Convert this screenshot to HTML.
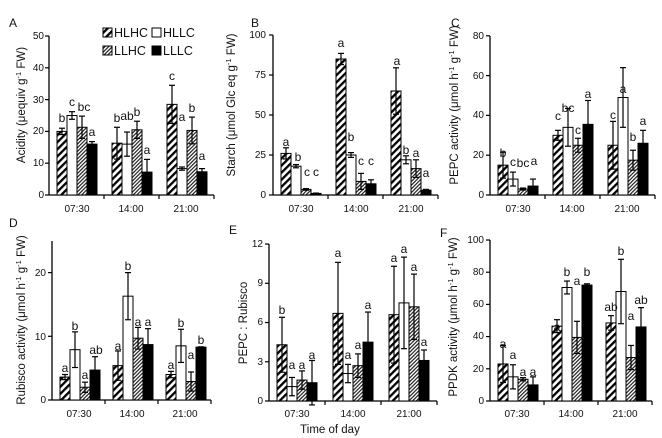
<!DOCTYPE html>
<html><head><meta charset="utf-8"><style>
html,body{margin:0;padding:0;background:#fff}
svg{display:block}
text{font-family:"Liberation Sans",Arial,sans-serif;fill:#111}
.t{font-size:10px}
.l{font-size:12px}
.lg{font-size:12.5px}
.y{font-size:11.5px}
.p{font-size:12px}
</style></head><body>
<svg id="s" width="662" height="438" viewBox="0 0 662 438" xmlns="http://www.w3.org/2000/svg">
<defs>
<pattern id="wide" patternUnits="userSpaceOnUse" width="5" height="5" patternTransform="rotate(45)">
<rect width="5" height="5" fill="#fff"/><rect width="2.3" height="5" fill="#000"/></pattern>
<pattern id="thin" patternUnits="userSpaceOnUse" width="2.6" height="2.6" patternTransform="rotate(45)">
<rect width="2.6" height="2.6" fill="#fff"/><rect width="1.2" height="2.6" fill="#222"/></pattern>
</defs>
<g id="g"></g>
<text class="p" x="9" y="27">A</text>
<text class="p" x="251" y="27">B</text>
<text class="p" x="451" y="27">C</text>
<text class="p" x="9" y="227">D</text>
<text class="p" x="229" y="234">E</text>
<text class="p" x="440" y="237">F</text>
<text class="y" transform="translate(25,105) rotate(-90)" text-anchor="middle">Acidity  (μequiv g<tspan dy="-4" font-size="7.5">-1</tspan><tspan dy="4"> FW)</tspan></text>
<text class="y" transform="translate(235,105) rotate(-90)" text-anchor="middle">Starch (μmol  Glc eq g<tspan dy="-4" font-size="7.5">-1</tspan><tspan dy="4"> FW)</tspan></text>
<text class="y" transform="translate(458,105) rotate(-90)" text-anchor="middle">PEPC activity (μmol  h<tspan dy="-4" font-size="7.5">-1</tspan><tspan dy="4"> g</tspan><tspan dy="-4" font-size="7.5">-1</tspan><tspan dy="4"> FW)</tspan></text>
<text class="y" transform="translate(25,320) rotate(-90)" text-anchor="middle">Rubisco activity (μmol h<tspan dy="-4" font-size="7.5">-1</tspan><tspan dy="4"> g</tspan><tspan dy="-4" font-size="7.5">-1</tspan><tspan dy="4"> FW)</tspan></text>
<text class="y" transform="translate(247,323) rotate(-90)" text-anchor="middle">PEPC : Rubisco</text>
<text class="y" transform="translate(457,317) rotate(-90)" text-anchor="middle">PPDK activity (μmol  h<tspan dy="-4" font-size="7.5">-1</tspan><tspan dy="4"> g</tspan><tspan dy="-4" font-size="7.5">-1</tspan><tspan dy="4"> FW)</tspan></text>
<g class="t" text-anchor="end">
<text x="44" y="198">0</text><text x="44" y="166">10</text><text x="44" y="134">20</text><text x="44" y="103">30</text><text x="44" y="71">40</text><text x="44" y="39">50</text>
<text x="266" y="198">0</text><text x="266" y="158">25</text><text x="266" y="118">50</text><text x="266" y="78">75</text><text x="266" y="38">100</text>
<text x="484" y="198">0</text><text x="484" y="158">20</text><text x="484" y="118">40</text><text x="484" y="79">60</text><text x="484" y="39">80</text>
<text x="46" y="403">0</text><text x="46" y="340">10</text><text x="46" y="276">20</text>
<text x="263" y="404">0</text><text x="263" y="365">3</text><text x="263" y="325">6</text><text x="263" y="286">9</text><text x="263" y="247">12</text>
<text x="484" y="404">0</text><text x="484" y="372">20</text><text x="484" y="339">40</text><text x="484" y="307">60</text><text x="484" y="275">80</text><text x="484" y="243">100</text>
</g>
<g class="t" text-anchor="middle">
<text x="77" y="212">07:30</text><text x="131" y="212">14:00</text><text x="186" y="212">21:00</text>
<text x="301" y="212">07:30</text><text x="356" y="212">14:00</text><text x="411" y="212">21:00</text>
<text x="518" y="212">07:30</text><text x="572" y="212">14:00</text><text x="627" y="212">21:00</text>
<text x="79" y="417">07:30</text><text x="132" y="417">14:00</text><text x="185" y="417">21:00</text>
<text x="297" y="417">07:30</text><text x="353" y="417">14:00</text><text x="409" y="417">21:00</text>
<text x="517" y="417">07:30</text><text x="571" y="417">14:00</text><text x="625" y="417">21:00</text>
</g>
<text class="y" x="330" y="433" text-anchor="middle" font-size="12">Time of day</text>
<rect x="103" y="28" width="9" height="9" fill="url(#wide)" stroke="#000"/>
<text class="lg" x="114" y="37">HLHC</text>
<rect x="152" y="28" width="9" height="9" fill="#fff" stroke="#000"/>
<text class="lg" x="163" y="37">HLLC</text>
<rect x="103" y="46" width="9" height="9" fill="url(#thin)" stroke="#000"/>
<text class="lg" x="114" y="55">LLHC</text>
<rect x="152" y="46" width="9" height="9" fill="#000" stroke="#000"/>
<text class="lg" x="163" y="55">LLLC</text>
<g class="l" text-anchor="middle">
<text x="62" y="122">b</text><text x="72" y="106">c</text><text x="84" y="111">bc</text><text x="92" y="136">a</text>
<text x="117" y="122">b</text><text x="127" y="120">ab</text><text x="137" y="116">b</text><text x="147" y="154">a</text>
<text x="172" y="80">c</text><text x="182" y="121">a</text><text x="192" y="112">b</text><text x="202" y="160">a</text>
<text x="286" y="146">a</text><text x="298" y="161">b</text><text x="307" y="176">c</text><text x="316" y="176">c</text>
<text x="341" y="47">a</text><text x="351" y="141">b</text><text x="361" y="165">c</text><text x="371" y="165">c</text>
<text x="397" y="65">a</text><text x="406" y="154">b</text><text x="416" y="157">a</text><text x="426" y="177">a</text>
<text x="503" y="157">b</text><text x="513" y="166">c</text><text x="523" y="167">bc</text><text x="534" y="165">a</text>
<text x="558" y="120">c</text><text x="568" y="112">bc</text><text x="578" y="134">c</text><text x="588" y="98">a</text>
<text x="613" y="119">c</text><text x="623" y="93">a</text><text x="633" y="141">b</text><text x="643" y="125">a</text>
<text x="65" y="372">a</text><text x="75" y="330">b</text><text x="85" y="379">a</text><text x="96" y="354">ab</text>
<text x="118" y="350">a</text><text x="128" y="270">b</text><text x="138" y="326">a</text><text x="148" y="326">a</text>
<text x="171" y="369">a</text><text x="181" y="327">b</text><text x="191" y="359">a</text><text x="201" y="344">b</text>
<text x="282" y="314">b</text><text x="292" y="369">a</text><text x="302" y="369">a</text><text x="312" y="359">a</text>
<text x="338" y="257">a</text><text x="348" y="359">a</text><text x="358" y="349">a</text><text x="368" y="309">a</text>
<text x="394" y="262">a</text><text x="404" y="253">a</text><text x="414" y="271">a</text><text x="424" y="346">a</text>
<text x="503" y="348">a</text><text x="513" y="359">a</text><text x="523" y="376">a</text><text x="533" y="376">a</text>
<text x="557" y="331">a</text><text x="567" y="276">b</text><text x="577" y="285">a</text><text x="587" y="276">b</text>
<text x="611" y="311">ab</text><text x="621" y="255">b</text><text x="631" y="320">a</text><text x="641" y="304">ab</text>
</g>
</svg>
<script>
var P=[
{x0:49,gw:55,y0:195,s:3.18,top:36,ticks:[0,10,20,30,40,50],d:[[[20,1],[25,1.2],[21.3,3.5],[16,0.8]],[[16.3,5],[16,3.8],[20.5,2.7],[7.2,4]],[[28.5,6],[8.3,0.5],[20.3,4.2],[7.3,1]]]},
{x0:273,gw:55,y0:195,s:1.6,top:35,ticks:[0,25,50,75,100],d:[[[26,3.5],[18,1],[3.5,0.5],[1,0.2]],[[85,3.5],[25,1.5],[8.5,5],[7,2.5]],[[65,14.5],[22,2.5],[16.5,5.5],[3,0.5]]]},
{x0:490,gw:55,y0:195,s:1.99,top:36,ticks:[0,20,40,60,80],d:[[[15,6.5],[8,3.5],[3,0.5],[4.5,3.5]],[[30,2.5],[34,9.5],[25,3.5],[35.5,12]],[[25,12],[49,15],[17.5,5],[26,6.5]]]},
{x0:52,gw:53,y0:400,s:6.37,top:241,ticks:[0,10,20],d:[[[3.6,0.4],[7.9,2.8],[2,0.8],[4.7,2.1]],[[5.4,2.3],[16.3,3.7],[9.7,1.7],[8.7,2.5]],[[4,0.5],[8.5,2.6],[2.9,1.5],[8.3,0.05]]]},
{x0:269,gw:56,y0:401,s:13.08,top:244,ticks:[0,3,6,9,12],d:[[[4.3,2.1],[1.1,0.7],[1.6,0.7],[1.4,1.7]],[[6.7,3.9],[2.1,0.7],[2.7,0.9],[4.5,2.3]],[[6.6,3.7],[7.5,3.5],[7.2,2.5],[3.1,0.8]]]},
{x0:490,gw:54,y0:401,s:1.61,top:240,ticks:[0,20,40,60,80,100],d:[[[23,11.5],[15,7.5],[13.5,1],[10,5]],[[46.5,4],[70.5,4],[39.5,10],[72,0.8]],[[48.5,4.5],[68,20],[27,7.5],[46,12]]]}
];
var fills=["url(#wide)","#fff","url(#thin)","#000"];
var h="";
P.forEach(function(p){
 h+='<line x1="'+p.x0+'" y1="'+p.y0+'" x2="'+p.x0+'" y2="'+p.top+'" stroke="#000" stroke-width="1.3"/>';
 p.ticks.forEach(function(t){var y=p.y0-t*p.s;h+='<line x1="'+(p.x0-4)+'" y1="'+y+'" x2="'+p.x0+'" y2="'+y+'" stroke="#000" stroke-width="1.2"/>';});
 var xe=p.x0+3*p.gw;
 h+='<line x1="'+p.x0+'" y1="'+p.y0+'" x2="'+xe+'" y2="'+p.y0+'" stroke="#000" stroke-width="1.3"/>';
 for(var g=1;g<=3;g++){var x=p.x0+g*p.gw;h+='<line x1="'+x+'" y1="'+p.y0+'" x2="'+x+'" y2="'+(p.y0+4)+'" stroke="#000" stroke-width="1.2"/>';}
 p.d.forEach(function(gr,g){gr.forEach(function(b,i){
  var x=p.x0+g*p.gw+8+10*i, v=b[0], e=b[1], y=p.y0-v*p.s;
  h+='<rect x="'+x+'" y="'+y+'" width="10" height="'+(v*p.s)+'" fill="'+fills[i]+'" stroke="#000" stroke-width="1"/>';
  var cx=x+5, yt=p.y0-(v+e)*p.s, yb=p.y0-(v-e)*p.s;
  h+='<line x1="'+cx+'" y1="'+yt+'" x2="'+cx+'" y2="'+yb+'" stroke="#000" stroke-width="1.2"/>';
  h+='<line x1="'+(cx-3)+'" y1="'+yt+'" x2="'+(cx+3)+'" y2="'+yt+'" stroke="#000" stroke-width="1.2"/>';
  h+='<line x1="'+(cx-3)+'" y1="'+yb+'" x2="'+(cx+3)+'" y2="'+yb+'" stroke="#000" stroke-width="1.2"/>';
 });});
});
document.getElementById("g").innerHTML=h;
</script>
</body></html>
